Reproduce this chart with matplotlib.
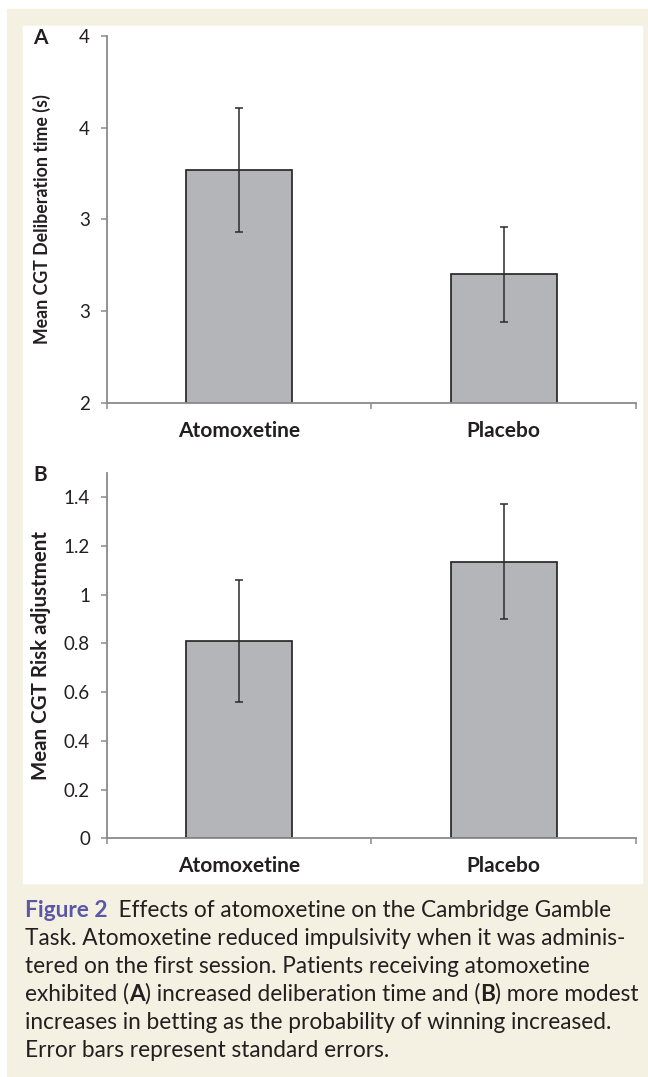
import matplotlib
matplotlib.use("Agg")
import matplotlib.pyplot as plt
from matplotlib.patches import Rectangle

# === Data ===
groups = ["Atomoxetine", "Placebo"]
delib_mean = [3.27, 2.70]
delib_err = [0.34, 0.26]
delib_ticks = [2, 2.5, 3, 3.5, 4]
delib_ticklabels = ["2", "3", "3", "4", "4"]

risk_mean = [0.81, 1.135]
risk_err = [0.25, 0.235]
risk_ticks = [0, 0.2, 0.4, 0.6, 0.8, 1.0, 1.2, 1.4]
risk_ticklabels = ["0", "0.2", "0.4", "0.6", "0.8", "1", "1.2", "1.4"]

caption = [
    [("Figure 2", "bold", "#5b57a6"), ("  Effects of atomoxetine on the Cambridge Gamble", "normal", "#231f20")],
    [("Task. Atomoxetine reduced impulsivity when it was adminis-", "normal", "#231f20")],
    [("tered on the first session. Patients receiving atomoxetine", "normal", "#231f20")],
    [("exhibited (", "normal", "#231f20"), ("A", "bold", "#231f20"),
     (") increased deliberation time and (", "normal", "#231f20"), ("B", "bold", "#231f20"),
     (") more modest", "normal", "#231f20")],
    [("increases in betting as the probability of winning increased.", "normal", "#231f20")],
    [("Error bars represent standard errors.", "normal", "#231f20")],
]

W, H = 648, 1077
CREAM = "#f4f1e3"
BAR = "#b4b5b8"
EDGE = "#231f20"
SPINE = "#8a8a8a"
FONT = "Lato"

fig = plt.figure(figsize=(W / 100, H / 100), dpi=100)
fig.patch.set_facecolor("white")


def px_rect(x0, y0, x1, y1):
    # pixel box (top-left origin) -> figure fraction [l, b, w, h]
    return [x0 / W, 1 - y1 / H, (x1 - x0) / W, (y1 - y0) / H]


# background frames
l, b, w, h = px_rect(7, 9, W, H)
fig.patches.append(Rectangle((l, b), w, h, transform=fig.transFigure, color=CREAM, zorder=-10))
l, b, w, h = px_rect(22.7, 26, 641.7, 882.7)
fig.patches.append(Rectangle((l, b), w, h, transform=fig.transFigure, color="white", zorder=-9))


def bar_panel(rect, means, errs, ylim, ticks, ticklabels, ylabel, ylabel_size, letter):
    ax = fig.add_axes(px_rect(*rect))
    ax.set_facecolor("none")
    x = list(range(len(groups)))
    ax.bar(x, means, width=0.4, color=BAR, edgecolor=EDGE, linewidth=1.2, zorder=2)
    ax.errorbar(x, means, yerr=errs, fmt="none", ecolor="#2b2b2b", elinewidth=1.1,
                capsize=3, capthick=1.1, zorder=3)
    ax.set_xlim(-0.5, len(groups) - 0.5)
    ax.set_ylim(*ylim)
    for s in ["top", "right"]:
        ax.spines[s].set_visible(False)
    for s in ["left", "bottom"]:
        ax.spines[s].set_color(SPINE)
        ax.spines[s].set_linewidth(1.3)
    ax.set_yticks(ticks)
    ax.set_yticklabels(ticklabels, fontfamily=FONT, fontsize=13.5, color="#231f20")
    ax.tick_params(axis="y", direction="out", length=4, width=1.1, color=SPINE, pad=8)
    # category boundary ticks, labels on minor ticks
    ax.set_xticks([i - 0.5 for i in range(len(groups) + 1)])
    ax.set_xticklabels([])
    ax.tick_params(axis="x", which="major", direction="out", length=4, width=1.1, color=SPINE)
    ax.set_xticks(x, minor=True)
    ax.set_xticklabels(groups, minor=True, fontfamily=FONT, fontweight="bold",
                       fontsize=15, color="#231f20")
    ax.tick_params(axis="x", which="minor", length=0, pad=13)
    ax.set_ylabel(ylabel, fontfamily=FONT, fontweight="bold", fontsize=ylabel_size,
                  color="#231f20")
    ax.yaxis.set_label_coords(-0.105, 0.5)
    fig.text(33 / W, 1 - (rect[1] - 8) / H, letter, fontfamily=FONT, fontweight="bold",
             fontsize=15, color="#231f20", ha="left", va="top")
    return ax


bar_panel((106.7, 36, 636, 402.7), delib_mean, delib_err, (2, 4), delib_ticks,
          delib_ticklabels, "Mean CGT Deliberation time (s)", 12.8, "A")
bar_panel((106.7, 472.7, 636, 838.3), risk_mean, risk_err, (0, 1.5), risk_ticks,
          risk_ticklabels, "Mean CGT Risk adjustment", 14.8, "B")

# === Caption with mixed styles ===
renderer = fig.canvas.get_renderer()
cap_size = 16.3
y0 = 917
for line in caption:
    x = 25
    for txt, weight, color in line:
        t = fig.text(x / W, 1 - y0 / H, txt, fontfamily=FONT, fontweight=weight,
                     fontsize=cap_size, color=color, ha="left", va="baseline")
        bb = t.get_window_extent(renderer)
        x += bb.width
    y0 += 28

fig.savefig("out.png", dpi=100, facecolor=fig.get_facecolor())
